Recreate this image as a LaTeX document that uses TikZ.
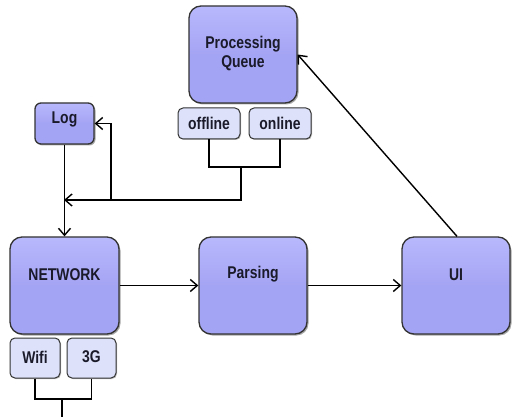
\documentclass[tikz,border=0pt]{standalone}
\usepackage{fontspec}
\setmainfont{Liberation Sans}[FakeStretch=0.82]
\usetikzlibrary{arrows.meta,shadows}
\definecolor{bigtop}{HTML}{B8B8FD}
\definecolor{bigbot}{HTML}{A4A4F4}
\definecolor{smallfill}{HTML}{DDE2FA}
\definecolor{edgecol}{HTML}{333333}
\definecolor{txt}{HTML}{1A1A2A}
\tikzset{
  bigbox/.style={draw=edgecol, line width=1.3pt, rounded corners=12pt,
    top color=bigtop, bottom color=bigbot, middle color=bigbot,
    drop shadow={shadow xshift=1.5pt, shadow yshift=-1.5pt, fill=black, opacity=0.35},
    minimum width=108pt, minimum height=97pt, inner sep=0pt},
  logbox/.style={bigbox, rounded corners=6pt, minimum width=59pt, minimum height=41pt},
  smallbox/.style={draw=edgecol, line width=1pt, rounded corners=5pt, fill=smallfill,
    drop shadow={shadow xshift=1pt, shadow yshift=-1pt, fill=black, opacity=0.25},
    inner sep=0pt},
  lbl/.style={text=txt, font=\fontsize{17}{19}\selectfont\bfseries, align=center, inner sep=0pt},
  conn/.style={draw=black, line width=1.4pt},
  arr/.style={conn, -{Straight Barb[length=7pt,width=12pt,line width=1.4pt]}},
}
\begin{document}
\begin{tikzpicture}[x=1pt,y=-1pt]
\useasboundingbox (0,0) rectangle (512,417);
% big boxes
\node[bigbox] (pq) at (243,54.5) {};
\node[lbl] (pqt) at (243,53.5) {Processing\\Queue};
\node[logbox] (log) at (64.5,123.5) {};
\node[lbl] (logt) at (64.5,119.5) {Log};
\node[bigbox, minimum width=109pt] (net) at (64.5,285.5) {};
\node[lbl] (nett) at (64.5,274.5) {NETWORK};
\node[bigbox] (par) at (253,285.5) {};
\node[lbl] (part) at (253,274.5) {Parsing};
\node[bigbox] (ui) at (456,285.5) {};
\node[lbl] (uit) at (456,274.5) {UI};
% small boxes
\node[smallbox, minimum width=62pt, minimum height=31pt] (off) at (209,123.5) {};
\node[lbl] (offt) at (209,123) {offline};
\node[smallbox, minimum width=62pt, minimum height=31pt] (on) at (280,123.5) {};
\node[lbl] (ont) at (280,123) {online};
\node[smallbox, minimum width=50pt, minimum height=40pt] (wifi) at (35,358) {};
\node[lbl] (wifit) at (35,357) {Wifi};
\node[smallbox, minimum width=49pt, minimum height=40pt] (g3) at (91.5,358) {};
\node[lbl] (g3t) at (91.5,357) {3G};
% coordinates
\coordinate (qj) at (241,167);
\coordinate (qd) at (241,200);
\coordinate (lj) at (64,200);
\coordinate (br) at (111,200);
\coordinate (wj) at (62,399);
\coordinate (wend) at (62,420);
% connectors
\draw[conn] (off.south) |- (qj) -| (on.south);
\draw[arr] (qj) -- (qd) -- (lj);
\draw[arr] (br) |- (log.east);
\draw[arr] (log.south) -- (net.north);
\draw[arr] (net.east) -- (par.west);
\draw[arr] (par.east) -- (ui.west);
\draw[arr] ([xshift=1pt]ui.north) -- (pq.east);
\draw[conn] (wifi.south) |- (wj) -| (g3.south);
\draw[conn] (wj) -- (wend);
\end{tikzpicture}
\end{document}
